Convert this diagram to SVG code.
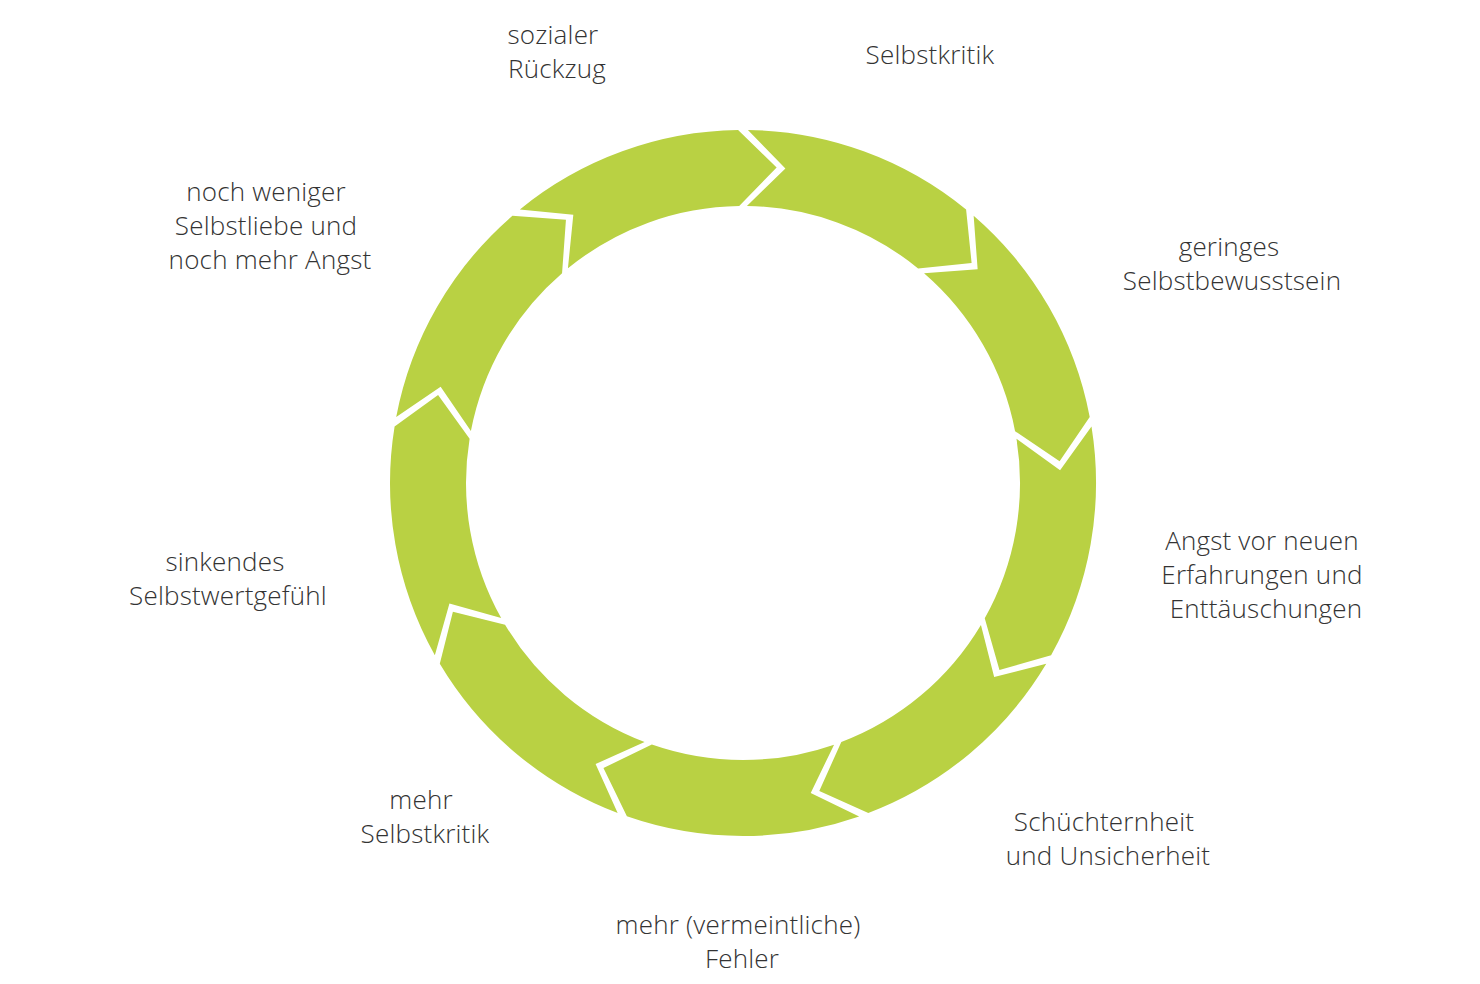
<svg xmlns="http://www.w3.org/2000/svg" xmlns:xlink="http://www.w3.org/1999/xlink" width="1480" height="984" viewBox="0 0 1480 984">
<style>
.seg{fill:#b9d143}
.lbl{font-family:"Open Sans","Noto Sans","Liberation Sans",sans-serif;font-size:26px;font-weight:300;letter-spacing:0.2px;fill:#333333;text-anchor:middle}
</style>
<defs>
<path id="arrowSeg" class="seg" d="M 747.9 130.0 A 353 353 0 0 1 966.1 209.5 L 971.6 262.9 L 918.1 268.4 A 277 277 0 0 0 746.9 206.0 L 785.4 168.5 Z"/>
</defs>
<rect width="1480" height="984" fill="#ffffff"/>
<g id="cycle">
<g id="seg1"><use xlink:href="#arrowSeg" href="#arrowSeg"/></g>
<g id="seg2"><use xlink:href="#arrowSeg" href="#arrowSeg" transform="rotate(40 743 483)"/></g>
<g id="seg3"><use xlink:href="#arrowSeg" href="#arrowSeg" transform="rotate(80 743 483)"/></g>
<g id="seg4"><use xlink:href="#arrowSeg" href="#arrowSeg" transform="rotate(120 743 483)"/></g>
<g id="seg5"><use xlink:href="#arrowSeg" href="#arrowSeg" transform="rotate(160 743 483)"/></g>
<g id="seg6"><use xlink:href="#arrowSeg" href="#arrowSeg" transform="rotate(200 743 483)"/></g>
<g id="seg7"><use xlink:href="#arrowSeg" href="#arrowSeg" transform="rotate(240 743 483)"/></g>
<g id="seg8"><use xlink:href="#arrowSeg" href="#arrowSeg" transform="rotate(280 743 483)"/></g>
<g id="seg9"><use xlink:href="#arrowSeg" href="#arrowSeg" transform="rotate(320 743 483)"/></g>
</g>
<g id="connectors"></g>
<g id="label-selbstkritik"><text class="lbl" x="930" y="64">Selbstkritik</text></g>
<g id="label-geringes"><text class="lbl"><tspan x="1229" y="256">geringes</tspan><tspan x="1232" y="290">Selbstbewusstsein</tspan></text></g>
<g id="label-angst"><text class="lbl"><tspan x="1262" y="550">Angst vor neuen</tspan><tspan x="1262" y="584">Erfahrungen und</tspan><tspan x="1266" y="618">Enttäuschungen</tspan></text></g>
<g id="label-schuechtern"><text class="lbl"><tspan x="1104" y="831">Schüchternheit</tspan><tspan x="1108" y="865">und Unsicherheit</tspan></text></g>
<g id="label-fehler"><text class="lbl"><tspan x="738" y="934">mehr (vermeintliche)</tspan><tspan x="742" y="968">Fehler</tspan></text></g>
<g id="label-mehrkritik"><text class="lbl"><tspan x="421" y="809">mehr</tspan><tspan x="425" y="843">Selbstkritik</tspan></text></g>
<g id="label-sinkend"><text class="lbl"><tspan x="225" y="571">sinkendes</tspan><tspan x="228" y="605">Selbstwertgefühl</tspan></text></g>
<g id="label-weniger"><text class="lbl"><tspan x="266" y="201">noch weniger</tspan><tspan x="266" y="235">Selbstliebe und</tspan><tspan x="270" y="269">noch mehr Angst</tspan></text></g>
<g id="label-rueckzug"><text class="lbl"><tspan x="553" y="44">sozialer</tspan><tspan x="557" y="78">Rückzug</tspan></text></g>
</svg>
